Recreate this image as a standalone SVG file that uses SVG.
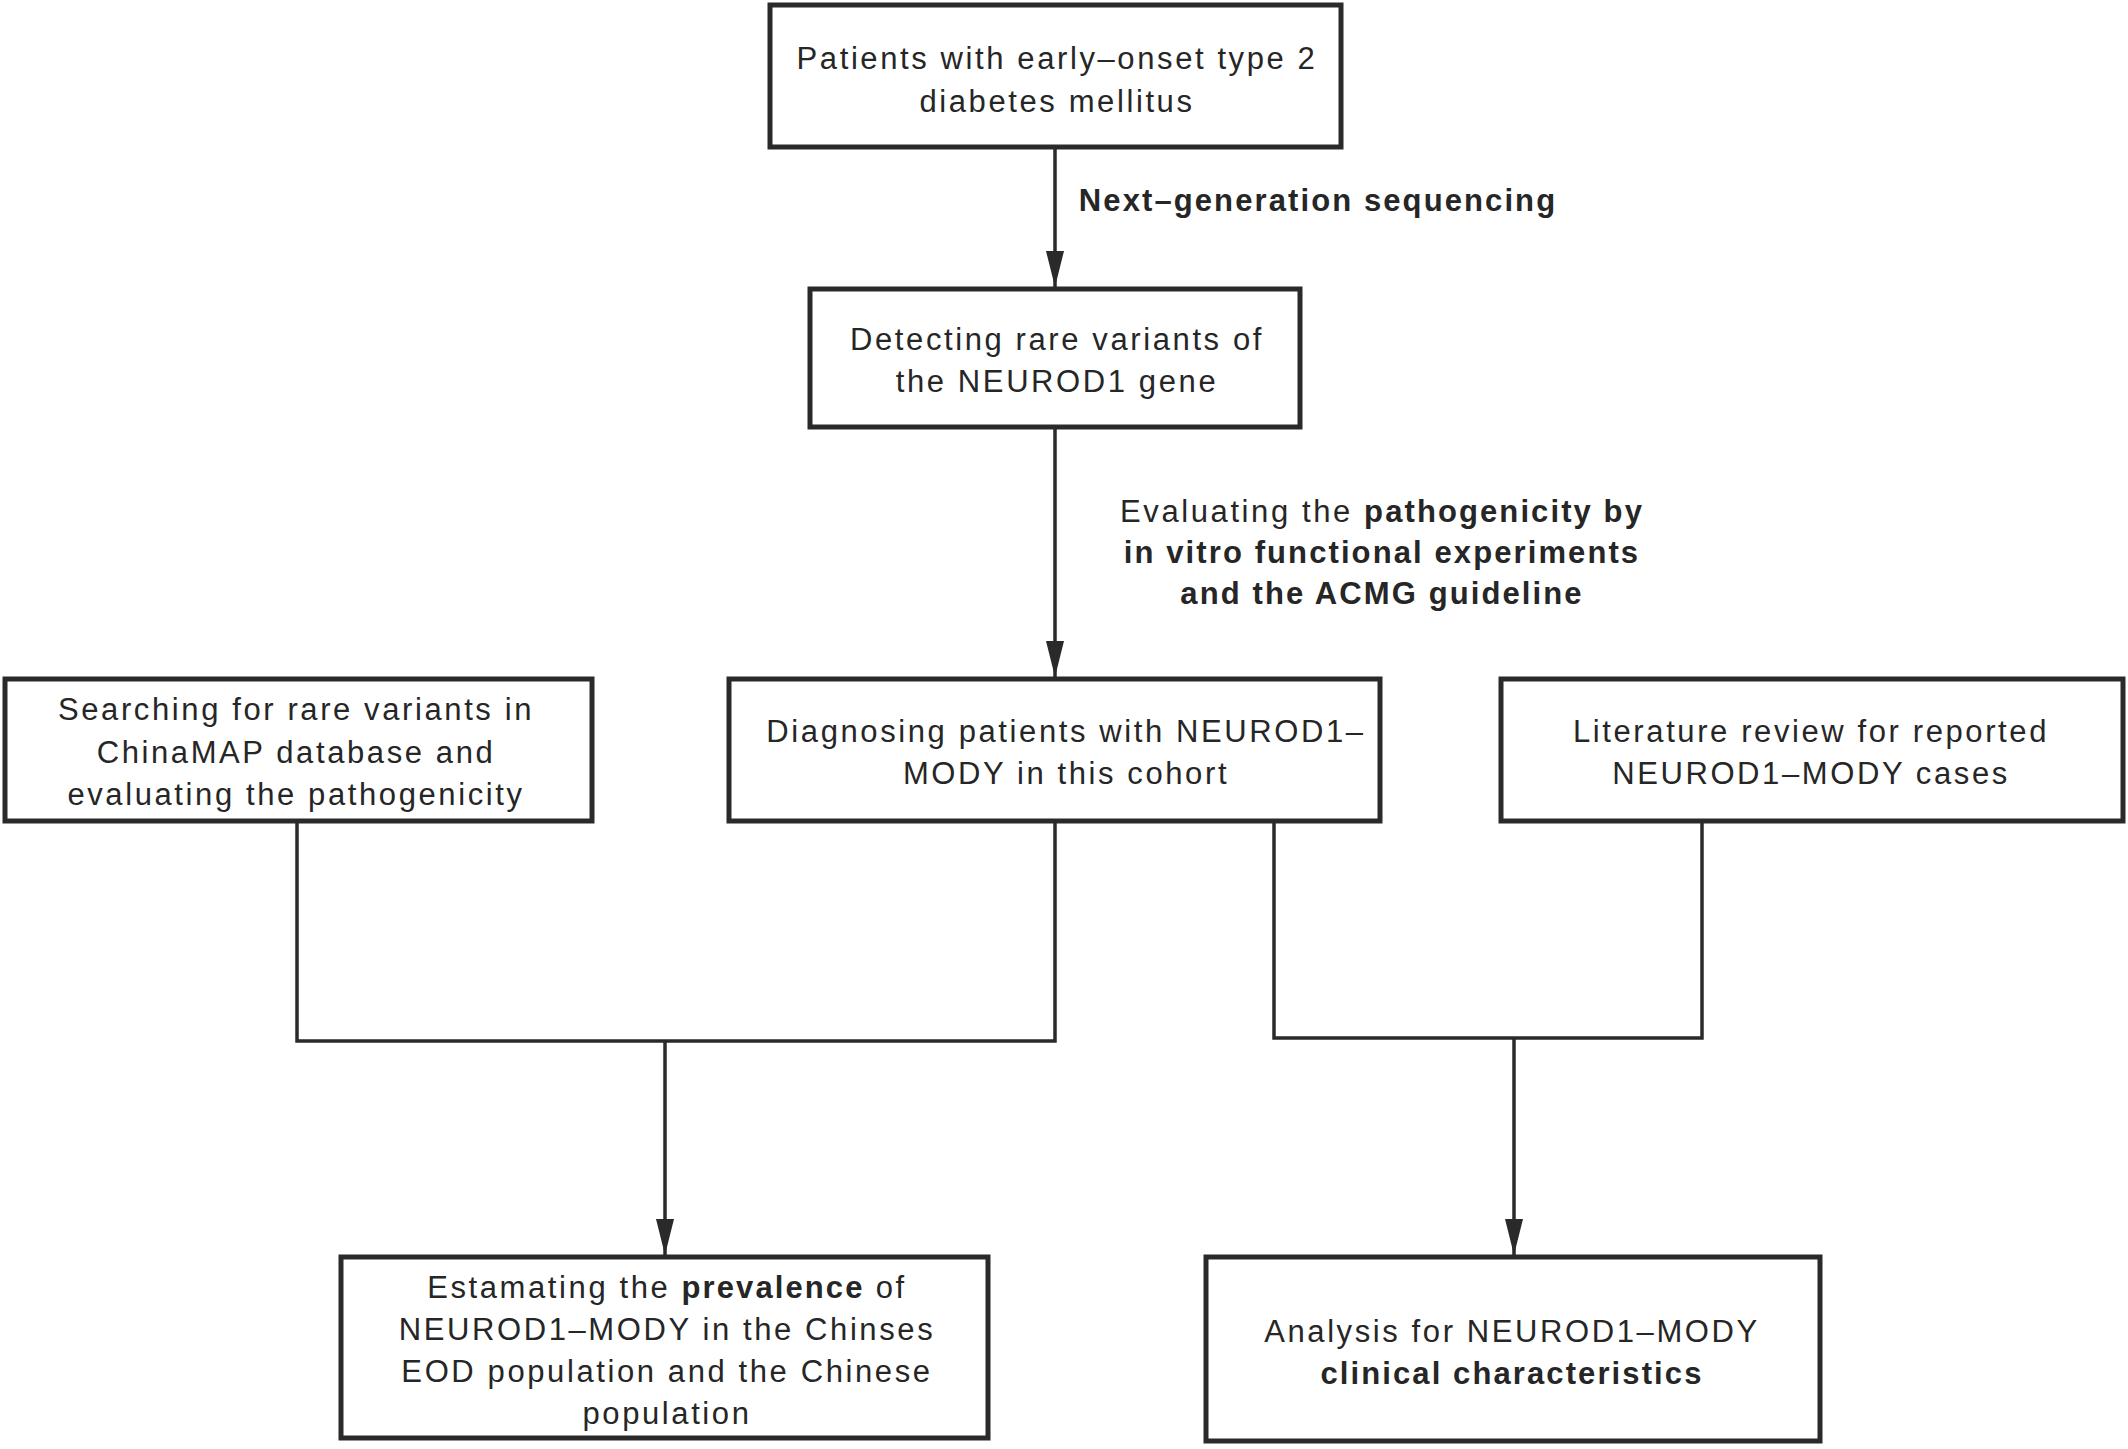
<svg xmlns="http://www.w3.org/2000/svg" width="2128" height="1449" viewBox="0 0 2128 1449">
  <style>
    .box { fill: #ffffff; stroke: #2a2a2a; stroke-width: 5; }
    .t { font-family: "Liberation Sans", Arial, sans-serif; font-size: 31px; fill: #262626; letter-spacing: 2.6px; text-anchor: middle; }
    .b { font-weight: bold; letter-spacing: 2.1px; }
    .conn { fill: none; stroke: #2a2a2a; stroke-width: 3.5; }
  </style>
  <defs>
    <marker id="ah" viewBox="0 0 36 18" refX="36" refY="9" markerWidth="36" markerHeight="18" markerUnits="userSpaceOnUse" orient="auto">
      <path d="M0,0 L36,9 L0,18 Z" fill="#2a2a2a"/>
    </marker>
  </defs>
  <rect width="2128" height="1449" fill="#ffffff"/>

  <g id="connectors">
    <line class="conn" x1="1055" y1="147" x2="1055" y2="287" marker-end="url(#ah)"/>
    <text class="t b" x="1318" y="211">Next–generation sequencing</text>
    <line class="conn" x1="1055" y1="427" x2="1055" y2="677" marker-end="url(#ah)"/>
    <text class="t" x="1382" y="522">Evaluating the <tspan class="b">pathogenicity by</tspan></text>
    <text class="t b" x="1382" y="563">in vitro functional experiments</text>
    <text class="t b" x="1382" y="604">and the ACMG guideline</text>
    <polyline class="conn" points="297,821 297,1041 1055,1041 1055,821"/>
    <line class="conn" x1="665" y1="1041" x2="665" y2="1255" marker-end="url(#ah)"/>
    <polyline class="conn" points="1274,821 1274,1038 1702,1038 1702,821"/>
    <line class="conn" x1="1514" y1="1038" x2="1514" y2="1255" marker-end="url(#ah)"/>
  </g>

  <g id="node-patients">
    <rect class="box" x="770" y="5" width="571" height="142"/>
    <text class="t" x="1057" y="69">Patients with early–onset type 2</text>
    <text class="t" x="1057" y="112">diabetes mellitus</text>
  </g>

  <g id="node-detecting">
    <rect class="box" x="810" y="289" width="490" height="138"/>
    <text class="t" x="1057" y="350">Detecting rare variants of</text>
    <text class="t" x="1057" y="392">the NEUROD1 gene</text>
  </g>

  <g id="node-searching">
    <rect class="box" x="5" y="679" width="587" height="142"/>
    <text class="t" x="296" y="720">Searching for rare variants in</text>
    <text class="t" x="296" y="763">ChinaMAP database and</text>
    <text class="t" x="296" y="805">evaluating the pathogenicity</text>
  </g>

  <g id="node-diagnosing">
    <rect class="box" x="729" y="679" width="651" height="142"/>
    <text class="t" x="1066" y="742">Diagnosing patients with NEUROD1–</text>
    <text class="t" x="1066" y="784">MODY in this cohort</text>
  </g>

  <g id="node-literature">
    <rect class="box" x="1501" y="679" width="622" height="142"/>
    <text class="t" x="1811" y="742">Literature review for reported</text>
    <text class="t" x="1811" y="784">NEUROD1–MODY cases</text>
  </g>

  <g id="node-prevalence">
    <rect class="box" x="341" y="1257" width="647" height="181"/>
    <text class="t" x="667" y="1298">Estamating the <tspan class="b">prevalence</tspan> of</text>
    <text class="t" x="667" y="1340">NEUROD1–MODY in the Chinses</text>
    <text class="t" x="667" y="1382">EOD population and the Chinese</text>
    <text class="t" x="667" y="1424">population</text>
  </g>

  <g id="node-analysis">
    <rect class="box" x="1206" y="1257" width="614" height="184"/>
    <text class="t" x="1512" y="1342">Analysis for NEUROD1–MODY</text>
    <text class="t b" x="1512" y="1384">clinical characteristics</text>
  </g>
</svg>
